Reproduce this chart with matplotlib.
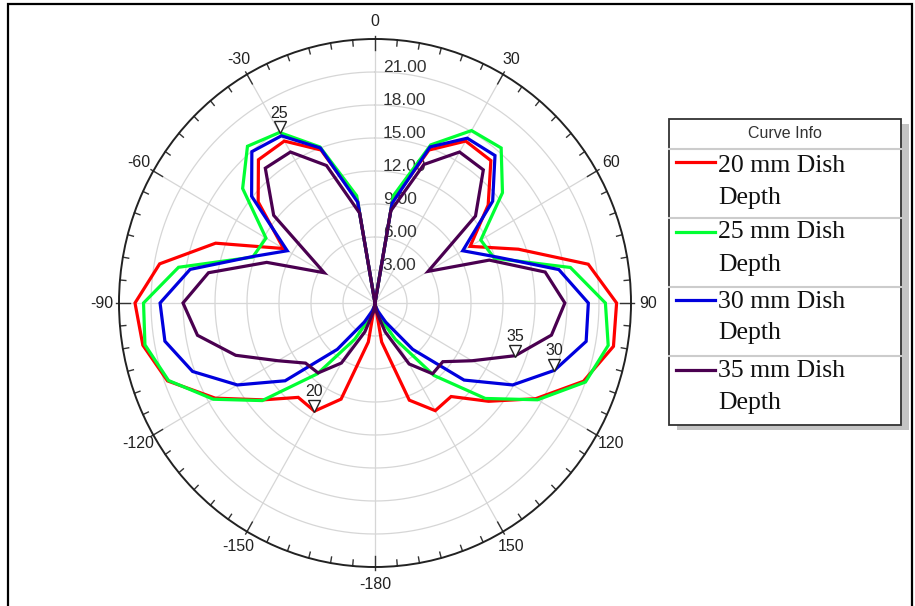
import numpy as np
import matplotlib
matplotlib.use("Agg")
import matplotlib.pyplot as plt
from matplotlib.patches import Rectangle
from matplotlib.lines import Line2D
from matplotlib.transforms import offset_copy

W, H = 915, 606

# far-field pattern, one sample every 10 degrees
angles = list(range(-180, 190, 10))
r_20mm = [0, 3.6, 9.3, 11.35, 11.2, 13.7, 17.3, 20.7, 22.1, 22.5, 20.5, 15.9, 9.9, 14.3, 17.0, 17.0, 14.8, 9.5,
          0, 9.4, 14.8, 17.0, 16.9, 13.85, 10.3, 14.3, 20.3, 22.65, 22.7, 20.8, 17.4, 13.9, 11.1, 11.3, 9.4, 3.6, 0]
r_25mm = [0, 0.5, 1.5, 3.8, 8.4, 13.8, 17.5, 20.6, 21.9, 21.7, 18.7, 12.2, 11.8, 16.2, 18.6, 17.9, 15.1, 9.9,
          0, 9.9, 15.3, 18.1, 18.4, 15.6, 11.45, 11.9, 18.6, 21.6, 22.2, 21.0, 17.6, 13.5, 8.6, 3.8, 1.5, 0.5, 0]
r_30mm = [0, 0.3, 0.8, 2.0, 5.5, 11.0, 14.9, 18.2, 20.0, 20.15, 17.6, 12.3, 9.5, 15.1, 17.96, 17.55, 15.0, 9.3,
          0, 9.2, 15.1, 17.3, 17.5, 14.4, 9.5, 12.2, 17.5, 20.0, 20.1, 17.9, 14.9, 10.9, 5.5, 2.0, 0.8, 0.3, 0]
r_35mm = [0, 0.8, 2.8, 6.3, 8.3, 8.5, 10.5, 13.9, 16.9, 18.0, 15.85, 10.8, 5.5, 12.4, 16.0, 15.85, 13.3, 8.3,
          0, 8.5, 13.4, 15.85, 15.8, 12.3, 5.75, 11.4, 16.2, 17.8, 16.8, 14.0, 10.5, 8.3, 8.4, 6.4, 2.8, 0.8, 0]

names = ["20 mm Dish", "25 mm Dish", "30 mm Dish", "35 mm Dish"]
colors = ["#ff0000", "#00ff33", "#0000dd", "#4a0050"]
curves = [r_20mm, r_25mm, r_30mm, r_35mm]

# marker: (curve index, angle, label)
markers = [(1, -30, "25"), (0, -150, "20"), (3, 110, "35"), (2, 110, "30")]

ring_values = [3, 6, 9, 12, 15, 18, 21]
r_max = 24
theta_ticks = [0, 30, 60, 90, 120, 150, 180, 210, 240, 270, 300, 330]
theta_labels = ["0", "30", "60", "90", "120", "150", "-180", "-150", "-120", "-90", "-60", "-30"]

fig = plt.figure(figsize=(W / 100, H / 100), dpi=100)

cx, cy, rx, ry = 375, 303, 256, 264
ax = fig.add_axes([(cx - rx) / W, 1 - (cy + ry) / H, 2 * rx / W, 2 * ry / H], projection="polar")
ax.set_aspect("auto")
ax.set_theta_zero_location("N")
ax.set_theta_direction(-1)
ax.set_ylim(0, r_max)
ax.set_xticks([])
ax.set_yticks([])
ax.grid(False)
ax.spines["polar"].set_color("#222222")
ax.spines["polar"].set_linewidth(1.4)

# grid rings and spokes
full = np.linspace(0, 2 * np.pi, 721)
for rv in ring_values:
    ax.plot(full, np.full_like(full, rv), color="#d6d6d6", lw=0.9, zorder=1)
for a in theta_ticks:
    ax.plot([np.radians(a)] * 2, [0, r_max], color="#d6d6d6", lw=0.9, zorder=1)

# ticks on the outer circle
for a in range(0, 360, 5):
    major = a % 30 == 0
    ln = 1.0 if major else 0.55
    top = r_max + (0.25 if major else 0)
    ax.plot([np.radians(a)] * 2, [r_max - ln, top], color="#333333", lw=1.0, clip_on=False, zorder=2)

for a, lab in zip(theta_ticks, theta_labels):
    ax.text(np.radians(a), 25.6, lab, ha="center", va="center", fontsize=11.5,
            family="Liberation Sans", color="#222222")

for rv in ring_values:
    ax.annotate(f"{rv:.2f}", xy=(0, rv), xytext=(5.5, 3.5), textcoords="offset points",
                ha="left", va="center", fontsize=12.5, family="Liberation Sans", color="#333333", zorder=2)

th = np.radians(angles)
for r, c in zip(curves, colors):
    ax.plot(th, r, color=c, lw=2.3, zorder=3, solid_joinstyle="miter")

tri = offset_copy(ax.transData, fig=fig, x=0, y=5, units="dots")
for idx, a, lab in markers:
    rv = curves[idx][angles.index(a)]
    ax.plot([np.radians(a)], [rv], marker="v", ms=8, mfc="white", mec="#222222", mew=1.0,
            transform=tri, zorder=5, clip_on=False)
    ax.annotate(lab, xy=(np.radians(a), rv), xytext=(0, 14), textcoords="offset points",
                ha="center", va="center", fontsize=11.5, family="Liberation Sans", color="#222222", zorder=5)


def px(x, y):
    return x / W, 1 - y / H


# legend box
bx0, by0, bx1, by1 = 669, 119, 901, 425
fig.add_artist(Rectangle(px(bx0 + 8, by1 + 5), (bx1 - bx0) / W, (by1 - by0) / H,
                         transform=fig.transFigure, fc="#c4c4c4", ec="none", zorder=1))
fig.add_artist(Rectangle(px(bx0, by1), (bx1 - bx0) / W, (by1 - by0) / H,
                         transform=fig.transFigure, fc="white", ec="#333333", lw=1.3, zorder=2))
fig.text(*px(785, 133), "Curve Info", ha="center", va="center", fontsize=11.5,
         family="Liberation Sans", color="#333333", zorder=3)
for yy in [149, 218, 287, 356]:
    fig.add_artist(Line2D([bx0 / W, bx1 / W], [1 - yy / H] * 2, transform=fig.transFigure,
                          color="#cccccc", lw=1.5, zorder=3))

base = [171.7, 238.5, 307.5, 376.7]
swatch = [162, 231.5, 300.5, 369.5]
for name, c, yb, ys in zip(names, colors, base, swatch):
    fig.add_artist(Line2D([676 / W, 715 / W], [1 - ys / H] * 2, transform=fig.transFigure,
                          color=c, lw=2.3, zorder=3))
    fig.text(*px(718, yb), name, ha="left", va="baseline", fontsize=18.5,
             family="Liberation Serif", color="#111111", zorder=3)
    fig.text(*px(718, yb + 32), "Depth", ha="left", va="baseline", fontsize=18.5,
             family="Liberation Serif", color="#111111", zorder=3)

# outer frame
fig.add_artist(Rectangle(px(8, 620), (912 - 8) / W, (620 - 4) / H, transform=fig.transFigure,
                         fc="none", ec="black", lw=1.6, zorder=0))

fig.savefig("out.png", dpi=100)
